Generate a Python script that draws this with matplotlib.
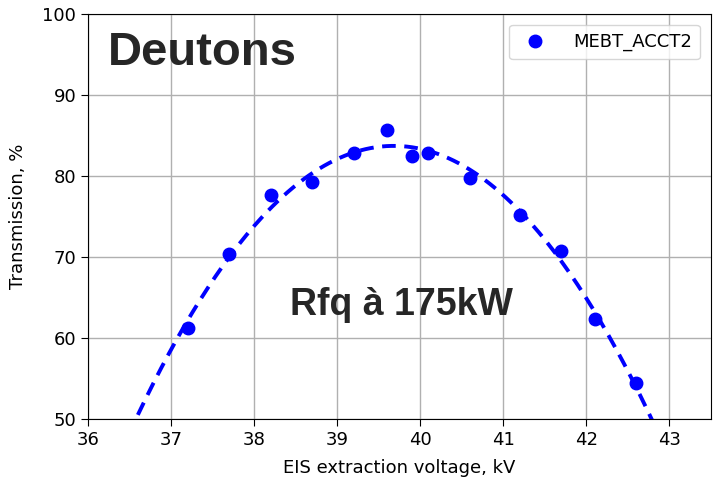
import numpy as np
import matplotlib.pyplot as plt

# EIS extraction voltage (kV) and measured transmission (%)
voltage = [37.2, 37.7, 38.2, 38.7, 39.2, 39.6, 39.9, 40.1, 40.6, 41.2, 41.7, 42.1, 42.6]
transmission = [61.2, 70.4, 77.6, 79.3, 82.9, 85.7, 82.5, 82.8, 79.8, 75.2, 70.7, 62.4, 54.4]
fit_range = [36.6, 42.8]

fig, ax = plt.subplots(figsize=(7.18, 4.83), dpi=100)
fig.subplots_adjust(left=0.1226, right=0.990, top=0.971, bottom=0.1325)

# quadratic fit through the points
coef = np.polyfit(voltage, transmission, 2)
xs = np.linspace(fit_range[0], fit_range[1], 200)
ax.plot(xs, np.polyval(coef, xs), '--', color='blue', lw=2.8, dashes=(3.5, 2.2))
ax.plot(voltage, transmission, 'o', color='blue', markersize=9, label='MEBT_ACCT2')

ax.set_xlim(36, 43.5)
ax.set_ylim(50, 100)
ax.set_xticks(range(36, 44))
ax.set_yticks(range(50, 101, 10))
ax.tick_params(labelsize=13, length=5)
ax.grid(True, color='#b0b0b0', lw=1)
ax.set_axisbelow(True)
ax.set_xlabel('EIS extraction voltage, kV', fontsize=13, labelpad=7)
ax.set_ylabel('Transmission, %', fontsize=13, labelpad=11)

ax.text(36.24, 93.7, 'Deutons', fontsize=34, fontweight='bold',
        family='Liberation Sans', color='#262626')
ax.text(38.43, 62.8, 'Rfq à 175kW', fontsize=27, fontweight='bold',
        family='Liberation Sans', color='#262626')

ax.legend(loc='upper right', fontsize=13, borderpad=0.45, handletextpad=1.1,
          borderaxespad=0.6)

plt.savefig('out.png')
